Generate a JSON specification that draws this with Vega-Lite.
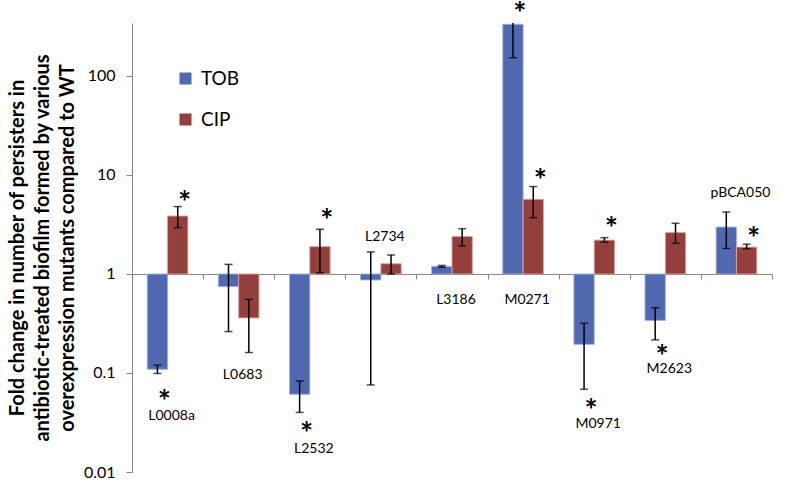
{
  "$schema": "https://vega.github.io/schema/vega-lite/v6.json",
  "width": 640,
  "height": 449,
  "autosize": "none",
  "padding": {"left": 132, "top": 23, "right": 18, "bottom": 9},
  "background": "white",
  "config": {"view": {"stroke": null}, "font": "Lato"},
  "datasets": {
    "bars": [
      {"mutant": "L0008a", "antibiotic": "TOB", "fold": 0.109, "lo": 0.099, "hi": 0.12, "star_y": 0.0595},
      {"mutant": "L0008a", "antibiotic": "CIP", "fold": 3.85, "lo": 2.94, "hi": 4.8, "star_y": 6.14},
      {"mutant": "L0683", "antibiotic": "TOB", "fold": 0.746, "lo": 0.262, "hi": 1.25, "star_y": null},
      {"mutant": "L0683", "antibiotic": "CIP", "fold": 0.36, "lo": 0.161, "hi": 0.555, "star_y": null},
      {"mutant": "L2532", "antibiotic": "TOB", "fold": 0.061, "lo": 0.04, "hi": 0.083, "star_y": 0.0285},
      {"mutant": "L2532", "antibiotic": "CIP", "fold": 1.89, "lo": 1.03, "hi": 2.83, "star_y": 4.01},
      {"mutant": "L2734", "antibiotic": "TOB", "fold": 0.87, "lo": 0.0757, "hi": 1.67, "star_y": null},
      {"mutant": "L2734", "antibiotic": "CIP", "fold": 1.27, "lo": 1.0, "hi": 1.56, "star_y": null},
      {"mutant": "L3186", "antibiotic": "TOB", "fold": 1.19, "lo": 1.17, "hi": 1.22, "star_y": null},
      {"mutant": "L3186", "antibiotic": "CIP", "fold": 2.39, "lo": 1.92, "hi": 2.87, "star_y": null},
      {"mutant": "M0271", "antibiotic": "TOB", "fold": 333, "lo": 153, "hi": 600, "star_y": 494},
      {"mutant": "M0271", "antibiotic": "CIP", "fold": 5.68, "lo": 3.71, "hi": 7.64, "star_y": 10.3},
      {"mutant": "M0971", "antibiotic": "TOB", "fold": 0.195, "lo": 0.0685, "hi": 0.318, "star_y": 0.049},
      {"mutant": "M0971", "antibiotic": "CIP", "fold": 2.2, "lo": 2.1, "hi": 2.33, "star_y": 3.35},
      {"mutant": "M2623", "antibiotic": "TOB", "fold": 0.34, "lo": 0.216, "hi": 0.457, "star_y": 0.17},
      {"mutant": "M2623", "antibiotic": "CIP", "fold": 2.62, "lo": 2.04, "hi": 3.25, "star_y": null},
      {"mutant": "pBCA050", "antibiotic": "TOB", "fold": 2.98, "lo": 1.81, "hi": 4.23, "star_y": null},
      {"mutant": "pBCA050", "antibiotic": "CIP", "fold": 1.87, "lo": 1.8, "hi": 2.0, "star_y": 2.66}
    ],
    "labels": [
      {"mutant": "L0008a", "label_y": 0.0368},
      {"mutant": "L0683", "label_y": 0.0948},
      {"mutant": "L2532", "label_y": 0.0172},
      {"mutant": "L2734", "label_y": 2.36},
      {"mutant": "L3186", "label_y": 0.542},
      {"mutant": "M0271", "label_y": 0.542},
      {"mutant": "M0971", "label_y": 0.0303},
      {"mutant": "M2623", "label_y": 0.109},
      {"mutant": "pBCA050", "label_y": 6.64}
    ]
  },
  "encoding": {
    "x": {
      "field": "mutant",
      "type": "nominal",
      "sort": ["L0008a", "L0683", "L2532", "L2734", "L3186", "M0271", "M0971", "M2623", "pBCA050"],
      "scale": {"paddingInner": 0, "paddingOuter": 0},
      "axis": {
        "title": null,
        "labels": false,
        "offset": -198,
        "domainColor": "#868686",
        "domainWidth": 1,
        "tickColor": "#868686",
        "tickSize": 5,
        "tickBand": "extent"
      }
    }
  },
  "layer": [
    {
      "data": {"name": "bars"},
      "mark": {"type": "bar", "strokeWidth": 1, "strokeOpacity": 0.9},
      "encoding": {
        "xOffset": {"field": "antibiotic", "type": "nominal", "sort": ["TOB", "CIP"], "scale": {"paddingInner": 0, "paddingOuter": 0.75}},
        "y": {
          "field": "fold",
          "type": "quantitative",
          "scale": {"type": "log", "domain": [0.01, 343], "nice": false},
          "axis": {
            "values": [0.01, 0.1, 1, 10, 100],
            "format": "~g",
            "grid": false,
            "domainColor": "#868686",
            "tickColor": "#868686",
            "tickSize": 6,
            "labelFontSize": 16,
            "labelColor": "#000000",
            "labelPadding": 11,
            "labelFont": "Lato",
            "title": ["Fold change in number of persisters in", "antibiotic-treated  biofilm formed by various", "overexpression mutants compared to WT"],
            "titleFont": "Lato",
            "titleFontSize": 20,
            "titleFontWeight": "bold",
            "titleColor": "#000000",
            "titleLineHeight": 25,
            "titlePadding": 6
          }
        },
        "y2": {"datum": 1},
        "color": {
          "field": "antibiotic",
          "type": "nominal",
          "sort": ["TOB", "CIP"],
          "scale": {"domain": ["TOB", "CIP"], "range": ["#5068B0", "#943F3C"]},
          "legend": {
            "title": null,
            "orient": "none",
            "legendX": 44,
            "legendY": 46,
            "symbolType": "square",
            "symbolSize": 144,
            "symbolStrokeWidth": 0,
            "labelFont": "Lato",
            "labelFontSize": 19,
            "labelColor": "#000000",
            "labelOffset": 6,
            "rowPadding": 21,
            "padding": 0
          }
        },
        "stroke": {
          "field": "antibiotic",
          "type": "nominal",
          "scale": {"domain": ["TOB", "CIP"], "range": ["#9DB0DE", "#D9A3A1"]},
          "legend": null
        }
      }
    },
    {
      "data": {"name": "bars"},
      "mark": {"type": "rule", "color": "#000000", "strokeWidth": 1.5, "clip": true},
      "encoding": {
        "xOffset": {"field": "antibiotic", "type": "nominal", "sort": ["TOB", "CIP"]},
        "y": {"field": "lo", "type": "quantitative"},
        "y2": {"field": "hi"}
      }
    },
    {
      "data": {"name": "bars"},
      "mark": {"type": "tick", "color": "#000000", "thickness": 1.5, "size": 8, "clip": true},
      "encoding": {
        "xOffset": {"field": "antibiotic", "type": "nominal", "sort": ["TOB", "CIP"]},
        "y": {"field": "lo", "type": "quantitative"}
      }
    },
    {
      "data": {"name": "bars"},
      "mark": {"type": "tick", "color": "#000000", "thickness": 1.5, "size": 8, "clip": true},
      "encoding": {
        "xOffset": {"field": "antibiotic", "type": "nominal", "sort": ["TOB", "CIP"]},
        "y": {"field": "hi", "type": "quantitative"}
      }
    },
    {
      "data": {"name": "bars"},
      "transform": [{"filter": "datum.star_y != null"}],
      "mark": {"type": "text", "text": "*", "font": "Lato", "fontSize": 31, "fontWeight": "bold", "color": "#000000", "baseline": "middle", "dx": 7, "dy": 8},
      "encoding": {
        "xOffset": {"field": "antibiotic", "type": "nominal", "sort": ["TOB", "CIP"]},
        "y": {"field": "star_y", "type": "quantitative"}
      }
    },
    {
      "data": {"name": "labels"},
      "mark": {"type": "text", "font": "Lato", "fontSize": 14, "color": "#000000", "baseline": "middle", "dx": 4},
      "encoding": {
        "y": {"field": "label_y", "type": "quantitative"},
        "text": {"field": "mutant"}
      }
    }
  ]
}
